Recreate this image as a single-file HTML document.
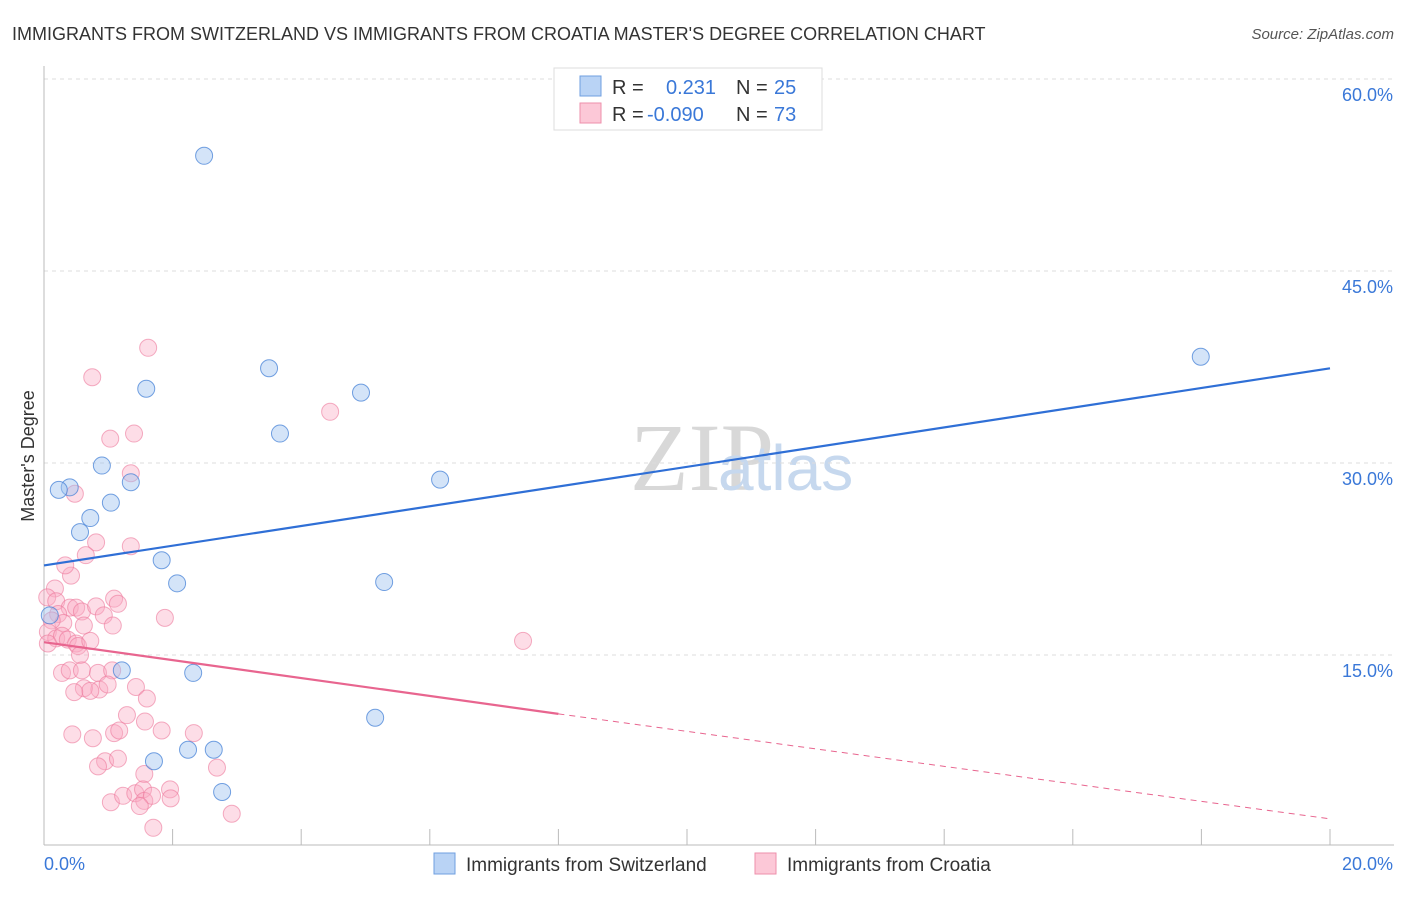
<!DOCTYPE html>
<html><head><meta charset="utf-8"><style>
body{margin:0;background:#fff;font-family:"Liberation Sans",sans-serif}
</style></head><body>
<svg id="c" width="1406" height="892" xmlns="http://www.w3.org/2000/svg">
<text x="12" y="40" font-size="18" fill="#333">IMMIGRANTS FROM SWITZERLAND VS IMMIGRANTS FROM CROATIA MASTER'S DEGREE CORRELATION CHART</text>
<text x="1394" y="39" font-size="15" fill="#555" font-style="italic" text-anchor="end">Source: ZipAtlas.com</text>
<text x="630" y="490" font-size="96" fill="#d8d8d8" font-family="Liberation Serif">ZIP</text>
<text x="718" y="490" font-size="64" fill="#c6d8ee">atlas</text>
<text transform="translate(34,456) rotate(-90)" font-size="18" fill="#333" text-anchor="middle">Master's Degree</text>
<g id="grid"></g><g id="marks"></g>
<rect x="554" y="68" width="268" height="62" fill="#fff" stroke="#ddd"/>
<rect x="580" y="76" width="21" height="20" fill="#b9d3f5" stroke="#6f9fe0"/>
<rect x="580" y="103" width="21" height="20" fill="#fcc8d7" stroke="#ee8fab"/>
<text font-size="20" fill="#333"><tspan x="612" y="94">R = </tspan><tspan x="666" fill="#3a78d8">0.231</tspan><tspan x="736">N = </tspan><tspan x="774" fill="#3a78d8">25</tspan><tspan x="612" y="121">R = </tspan><tspan x="647" fill="#3a78d8">-0.090</tspan><tspan x="736">N = </tspan><tspan x="774" fill="#3a78d8">73</tspan></text>
<rect x="434" y="853" width="21" height="21" fill="#b9d3f5" stroke="#6f9fe0"/>
<text x="466" y="871" font-size="19" fill="#333">Immigrants from Switzerland</text>
<rect x="755" y="853" width="21" height="21" fill="#fcc8d7" stroke="#ee8fab"/>
<text x="787" y="871" font-size="19" fill="#333">Immigrants from Croatia</text>
</svg>
<script>
const yTicks=[15,30,45,60];
const yTickLabels=["15.0%","30.0%","45.0%","60.0%"];
const xEnds=["0.0%","20.0%"];
const blueX=[2.49,17.99,3.50,1.59,4.93,3.67,0.90,6.16,0.40,0.23,1.35,1.04,0.72,0.56,1.83,2.07,5.29,0.09,1.21,2.32,5.15,1.71,2.24,2.64,2.77];
const blueY=[54.0,38.3,37.4,35.8,35.5,32.3,29.8,28.7,28.1,27.9,28.5,26.9,25.7,24.6,22.4,20.6,20.7,18.1,13.8,13.6,10.1,6.7,7.6,7.6,4.3];
const pinkX=[1.62,0.75,1.03,1.40,4.45,0.48,1.35,1.35,0.81,0.65,0.42,0.17,0.05,0.19,0.40,0.22,0.50,0.59,0.81,0.93,1.09,1.15,1.88,1.07,0.62,0.30,0.12,0.06,0.19,0.28,0.37,0.50,0.53,0.72,0.56,0.06,0.28,0.40,0.59,0.84,1.06,0.86,0.62,0.72,0.99,1.43,1.60,1.29,1.57,1.83,2.33,0.44,0.76,1.09,1.17,0.95,1.15,0.84,1.56,1.96,2.69,1.04,1.23,1.42,1.54,1.56,1.68,1.49,1.97,2.92,1.70,7.45,0.47,0.33];
const pinkY=[39.0,36.7,31.9,32.3,34.0,27.6,29.2,23.5,23.8,22.8,21.2,20.2,19.5,19.2,18.7,18.2,18.7,18.4,18.8,18.1,19.4,19.0,17.9,17.3,17.3,17.5,17.7,16.8,16.3,16.5,16.2,15.9,15.7,16.1,15.0,15.9,13.6,13.8,13.8,13.6,13.8,12.3,12.4,12.2,12.7,12.5,11.6,10.3,9.8,9.1,8.9,8.8,8.5,8.9,9.1,6.7,6.9,6.3,5.7,4.5,6.2,3.5,4.0,4.2,4.5,3.6,4.0,3.2,3.8,2.6,1.5,16.1,12.1,22.0];
const blueTrend=[22.0,37.4];
const pinkTrend=[16.0,10.4,2.2];
const X=v=>44+v*64.3, Y=v=>847-v*12.8;
const NS="http://www.w3.org/2000/svg";
const grid=document.getElementById('grid'),marks=document.getElementById('marks');
function mk(p,tag,a){const e=document.createElementNS(NS,tag);for(const k in a)e.setAttribute(k,a[k]);p.appendChild(e);return e;}
yTicks.forEach((t,i)=>{
 const l=mk(grid,'line',{x1:44,x2:1394,y1:Y(t),y2:Y(t),stroke:'#ddd','stroke-dasharray':'4,4'});
 
 
 const tx=mk(grid,'text',{x:1393,y:Y(t)+22,'font-size':18,fill:'#3a78d8','text-anchor':'end'});tx.textContent=yTickLabels[i];
 
 
});
const ax=mk(grid,'line',{x1:44,x2:44,y1:66,y2:845,stroke:'#bbb'});


const bx=mk(grid,'line',{x1:44,x2:1394,y1:845,y2:845,stroke:'#bbb'});


for(let i=0;i<=10;i++){const t=mk(grid,'line',{x1:X(i*2),x2:X(i*2),y1:829,y2:845,stroke:'#bbb'});
 
 }
const xl0=mk(grid,'text',{x:44,y:870,'font-size':18,fill:'#3a78d8'});xl0.textContent=xEnds[0];


const xl1=mk(grid,'text',{x:1393,y:870,'font-size':18,fill:'#3a78d8','text-anchor':'end'});xl1.textContent=xEnds[1];


pinkX.forEach((x,i)=>{const c=mk(marks,'circle',{cx:X(x),cy:Y(pinkY[i]),r:8.5,fill:'rgba(249,170,195,0.4)',stroke:'rgba(236,120,155,0.6)','stroke-width':1});
 
 });
blueX.forEach((x,i)=>{const c=mk(marks,'circle',{cx:X(x),cy:Y(blueY[i]),r:8.5,fill:'rgba(160,196,240,0.45)',stroke:'rgba(70,130,215,0.75)','stroke-width':1});
 
 });
const bl=mk(marks,'line',{x1:X(0),y1:Y(blueTrend[0]),x2:X(20),y2:Y(blueTrend[1]),stroke:'#2f6fd6','stroke-width':2.2});


const pl=mk(marks,'line',{x1:X(0),y1:Y(pinkTrend[0]),x2:X(8),y2:Y(pinkTrend[1]),stroke:'#e8658f','stroke-width':2.2});


const pd=mk(marks,'line',{x1:X(8),y1:Y(pinkTrend[1]),x2:X(20),y2:Y(pinkTrend[2]),stroke:'#e8658f','stroke-width':1,'stroke-dasharray':'6,5'});


</script>
</body></html>
